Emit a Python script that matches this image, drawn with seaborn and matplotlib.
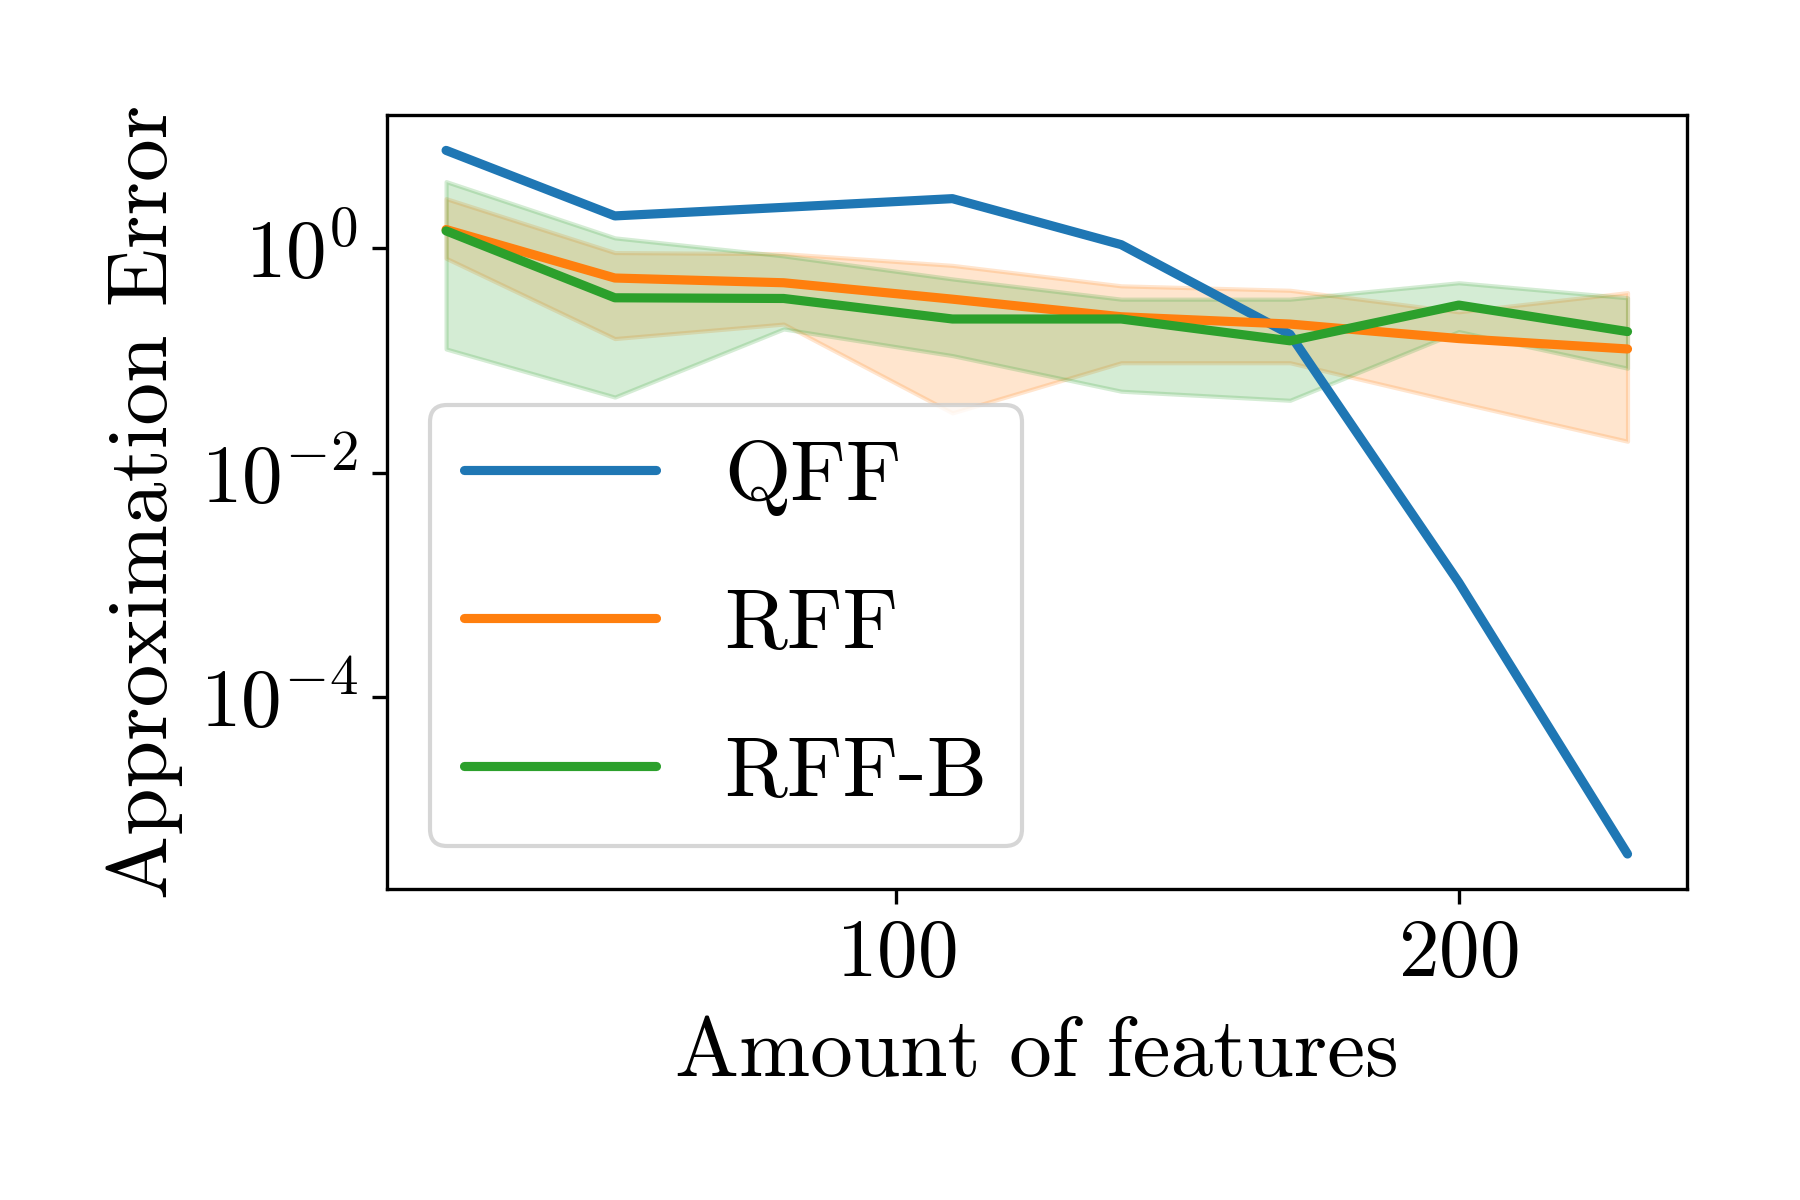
import numpy as np
import matplotlib
matplotlib.use("Agg")
import matplotlib.pyplot as plt
import seaborn as sns

features = [20, 50, 80, 110, 140, 170, 200, 230]

qff = [7.4, 1.93, 2.3, 2.75, 1.07, 0.17, 0.00105, 4e-6]

rff = [1.46, 0.54, 0.49, 0.35, 0.244, 0.21, 0.156, 0.126]
rff_upper = [2.75, 0.91, 0.89, 0.70, 0.46, 0.42, 0.27, 0.40]
rff_lower = [0.81, 0.156, 0.21, 0.034, 0.095, 0.095, 0.042, 0.019]

rffb = [1.42, 0.36, 0.355, 0.233, 0.233, 0.149, 0.31, 0.18]
rffb_upper = [3.9, 1.23, 0.85, 0.53, 0.35, 0.35, 0.49, 0.36]
rffb_lower = [0.126, 0.047, 0.19, 0.11, 0.053, 0.044, 0.18, 0.085]

sns.set_style("ticks", {"axes.edgecolor": "black", "xtick.color": "black",
                        "ytick.color": "black", "text.color": "black",
                        "axes.labelcolor": "black"})
plt.rcParams["font.family"] = ["cmr10", "DejaVu Serif"]
plt.rcParams["mathtext.fontset"] = "cm"
plt.rcParams["axes.formatter.use_mathtext"] = True
plt.rcParams["axes.unicode_minus"] = False

colors = sns.color_palette("tab10")
lw = 2.2

fig, ax = plt.subplots(figsize=(6, 4), dpi=300)
fig.subplots_adjust(left=0.215, right=0.937, top=0.904, bottom=0.259)

sns.lineplot(x=features, y=qff, color=colors[0], lw=lw, label="QFF", ax=ax)
sns.lineplot(x=features, y=rff, color=colors[1], lw=lw, label="RFF", ax=ax)
ax.fill_between(features, rff_lower, rff_upper, color=colors[1], alpha=0.2)
sns.lineplot(x=features, y=rffb, color=colors[2], lw=lw, label="RFF-B", ax=ax)
ax.fill_between(features, rffb_lower, rffb_upper, color=colors[2], alpha=0.2)

ax.set_yscale("log")
ax.set_yticks([1, 1e-2, 1e-4])
ax.yaxis.set_minor_locator(matplotlib.ticker.NullLocator())
ax.set_xticks([100, 200])
ax.tick_params(labelsize=19.5, width=0.8, length=3.5)
for s in ax.spines.values():
    s.set_linewidth(0.8)

ax.set_xlabel("Amount of features", fontsize=20.5, labelpad=6)
ax.set_ylabel("Approximation Error", fontsize=20.5)

ax.legend(loc="lower left", fontsize=20.5, frameon=True, edgecolor="0.8",
          fancybox=True, framealpha=0.8, handlelength=2.25, labelspacing=0.85)

plt.savefig("out.png", dpi=300)
